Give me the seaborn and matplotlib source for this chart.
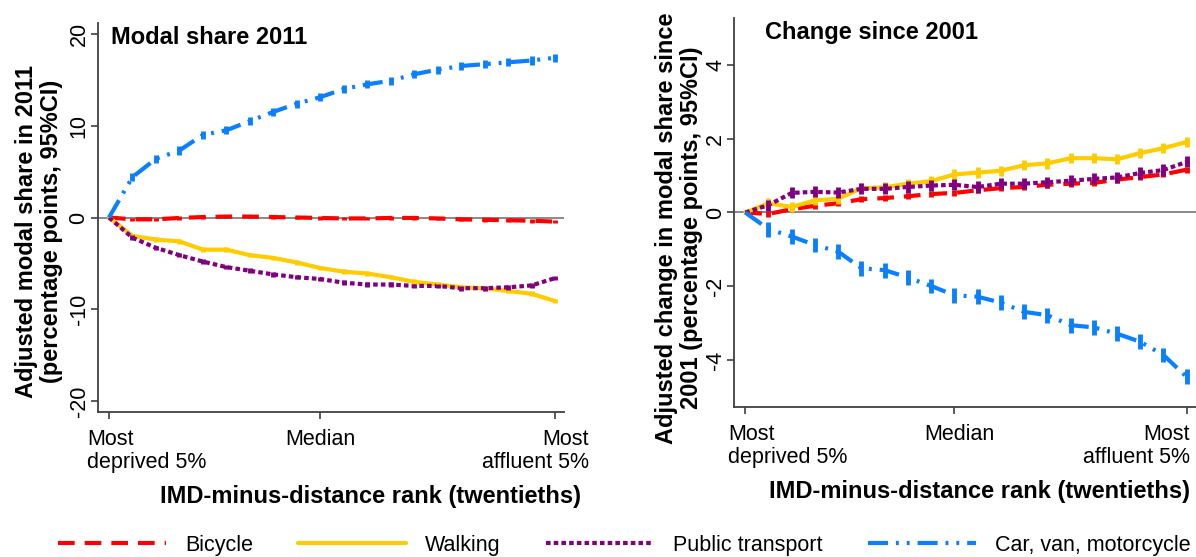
import numpy as np
import pandas as pd
import matplotlib
matplotlib.use('Agg')
import matplotlib.pyplot as plt
import matplotlib.transforms as mtransforms
from matplotlib.lines import Line2D
import seaborn as sns

# ranks (twentieths)
ranks = list(range(1, 21))
modes = ['Bicycle', 'Walking', 'Public transport', 'Car, van, motorcycle']

# Modal share 2011 (percentage points)
bike_2011 = [0, -0.2, -0.2, -0.05, 0.05, 0.1, 0.1, 0.05, 0.0, -0.05,
             -0.1, -0.1, -0.05, -0.05, -0.1, -0.2, -0.25, -0.3, -0.35, -0.45]
walk_2011 = [0, -2.0, -2.4, -2.6, -3.5, -3.5, -4.1, -4.4, -4.9, -5.5,
             -5.9, -6.1, -6.5, -7.0, -7.3, -7.6, -7.7, -8.0, -8.3, -9.1]
pt_2011 = [0, -2.2, -3.3, -4.1, -4.8, -5.4, -5.8, -6.2, -6.5, -6.7,
           -7.1, -7.3, -7.3, -7.45, -7.45, -7.7, -7.7, -7.6, -7.4, -6.6]
car_2011 = [0, 4.4, 6.4, 7.3, 9.0, 9.5, 10.5, 11.5, 12.4, 13.1,
            14.0, 14.5, 14.9, 15.6, 16.1, 16.5, 16.7, 16.9, 17.1, 17.4]

# Change since 2001 (percentage points)
bike_chg = [0, -0.04, 0.09, 0.18, 0.25, 0.36, 0.39, 0.44, 0.50, 0.53,
            0.60, 0.66, 0.69, 0.75, 0.78, 0.80, 0.89, 0.96, 1.03, 1.16]
walk_chg = [0, 0.25, 0.15, 0.33, 0.37, 0.66, 0.68, 0.78, 0.85, 1.03,
            1.08, 1.13, 1.28, 1.33, 1.47, 1.47, 1.44, 1.61, 1.74, 1.91]
pt_chg = [0, 0.2, 0.53, 0.56, 0.54, 0.64, 0.64, 0.69, 0.73, 0.75,
          0.69, 0.78, 0.78, 0.82, 0.86, 0.91, 0.95, 1.07, 1.15, 1.37]
car_chg = [0, -0.45, -0.65, -0.88, -1.06, -1.51, -1.56, -1.76, -1.99, -2.24,
           -2.28, -2.44, -2.69, -2.78, -3.05, -3.11, -3.28, -3.5, -3.86, -4.45]

# approx 95% CI half-widths per mode
ci_2011 = [0.2, 0.25, 0.25, 0.45]
ci_chg = [0.08, 0.14, 0.15, 0.2]

xtick_pos = [1, 10, 20]
xtick_labels = ['Most\ndeprived 5%', 'Median', 'Most\naffluent 5%']

colors = {'Bicycle': '#FF0000', 'Walking': '#FFCC00',
          'Public transport': '#800080', 'Car, van, motorcycle': '#0A80FF'}
dashes = {'Bicycle': (4, 2.4), 'Walking': '',
          'Public transport': (1.1, 0.75),
          'Car, van, motorcycle': (4.8, 1.9, 0.7, 1.9, 0.7, 1.9)}

sns.set_style('white')
plt.rcParams['font.family'] = ['Liberation Sans', 'DejaVu Sans']
plt.rcParams['axes.unicode_minus'] = False
for k in ['text.color', 'axes.labelcolor', 'xtick.labelcolor', 'ytick.labelcolor']:
    plt.rcParams[k] = 'black'

LW = 3.0
FS = 15.5


def long_df(series):
    rows = []
    for m, vals in zip(modes, series):
        for r, v in zip(ranks, vals):
            rows.append({'rank': r, 'value': v, 'mode': m})
    return pd.DataFrame(rows)


def draw_panel(ax, series, cis, ylim, yticks, title, title_x, ylabel, ylab_x, ylab_y,
               xlab_x, label_offsets):
    ax.axhline(0, color='#808080', lw=1.3, zorder=1)
    df = long_df(series)
    sns.lineplot(data=df, x='rank', y='value', hue='mode', style='mode',
                 hue_order=modes, style_order=modes, palette=colors,
                 dashes=dashes, lw=LW, legend=False, ax=ax, zorder=3)
    for m, vals, ci in zip(modes, series, cis):
        v = np.array(vals[1:])
        ax.vlines(ranks[1:], v - ci, v + ci, color=colors[m], lw=3.5, zorder=3)
    ax.set_xlim(0.53, 20.4)
    ax.set_ylim(*ylim)
    ax.set_yticks(yticks)
    ax.set_yticklabels([str(t) for t in yticks])
    ax.set_xticks(xtick_pos)
    ax.set_xticklabels(xtick_labels, linespacing=1.15)
    ax.tick_params(axis='both', length=5, width=1.2, color='#404040',
                   labelsize=FS, labelcolor='black', direction='out',
                   bottom=True, left=True)
    ax.tick_params(axis='x', pad=7)
    ax.tick_params(axis='y', pad=1)
    for lab in ax.get_yticklabels():
        lab.set_rotation(90)
        lab.set_va('center')
        lab.set_ha('right')
    aligns = ['left', 'center', 'right']
    for lab, ha, off in zip(ax.get_xticklabels(), aligns, label_offsets):
        lab.set_ha(ha)
        lab.set_multialignment(ha)
        lab.set_transform(lab.get_transform() +
                          mtransforms.ScaledTranslation(off / 100, 0, ax.figure.dpi_scale_trans))
    sns.despine(ax=ax)
    for s in ['left', 'bottom']:
        ax.spines[s].set_color('#404040')
        ax.spines[s].set_linewidth(1.3)
    ax.text(title_x, 0.962, title, transform=ax.transAxes, fontsize=17,
            fontweight='bold', va='center', ha='left', color='black')
    ax.set_ylabel(ylabel, fontsize=17, fontweight='bold', linespacing=1.12,
                  va='center', ha='center', color='black')
    ax.yaxis.set_label_coords(ylab_x, ylab_y)
    ax.set_xlabel('IMD-minus-distance rank (twentieths)', fontsize=17,
                  fontweight='bold', va='center', color='black')
    ax.xaxis.set_label_coords(xlab_x, -0.216)


fig = plt.figure(figsize=(11.96, 5.57), dpi=100)
ax1 = fig.add_axes([0.0819, 0.260, 0.390, 0.699])
ax2 = fig.add_axes([0.614, 0.269, 0.386, 0.699])

draw_panel(ax1, [bike_2011, walk_2011, pt_2011, car_2011], ci_2011,
           (-21.2, 21.2), [-20, -10, 0, 10, 20], 'Modal share 2011', 0.028,
           'Adjusted modal share in 2011\n(percentage points, 95%CI)',
           -0.127, 0.465, 0.585, [-22, 0, 34])
draw_panel(ax2, [bike_chg, walk_chg, pt_chg, car_chg], ci_chg,
           (-5.27, 5.27), [-4, -2, 0, 2, 4], 'Change since 2001', 0.066,
           'Adjusted change in modal share since\n2001 (percentage points, 95%CI)',
           -0.12, 0.46, 0.530, [-17, 5, 3])

handles = [Line2D([0], [0], color=colors[m], lw=LW,
                  dashes=dashes[m] if dashes[m] else (None, None),
                  linestyle='-' if not dashes[m] else '--')
           for m in modes]
fig.legend(handles, modes, loc='center', bbox_to_anchor=(0.522, 0.0215), ncol=4,
           frameon=False, fontsize=FS, handlelength=5.0, handletextpad=0.9,
           columnspacing=2.1, labelcolor='black')

fig.savefig('out.png', dpi=100)
